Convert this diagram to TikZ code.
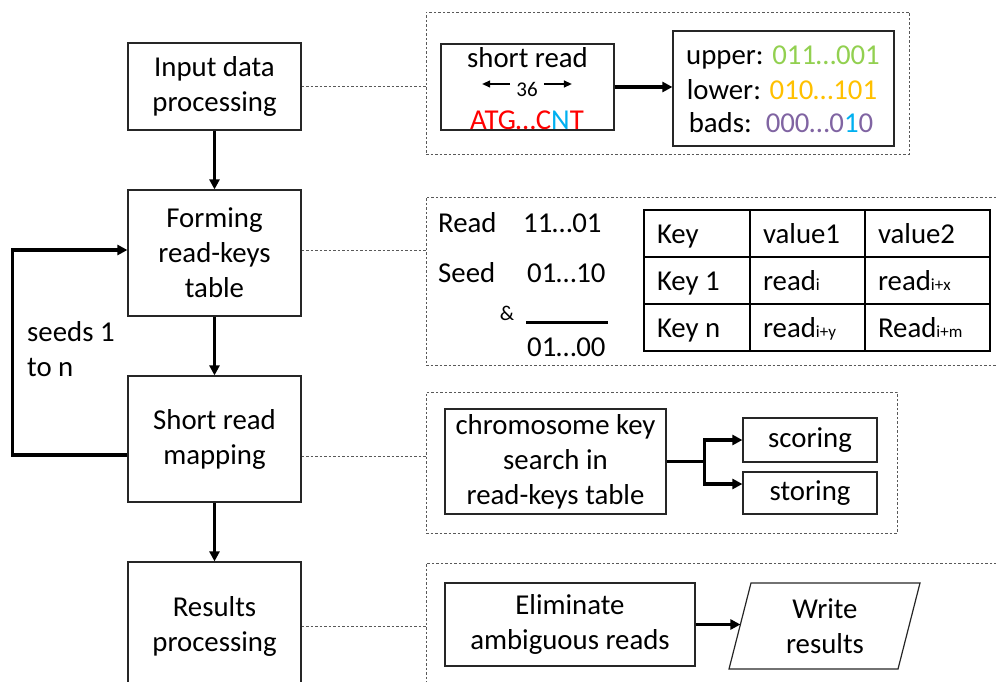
\documentclass[tikz,border=0pt]{standalone}
\usepackage{fontspec}
\setmainfont{Carlito}
\usetikzlibrary{arrows.meta,fit}
\definecolor{cgreen}{HTML}{92D050}
\definecolor{corange}{HTML}{FFC000}
\definecolor{cpurple}{HTML}{8064A2}
\definecolor{ccyan}{HTML}{00B0F0}
\definecolor{cred}{HTML}{FF0000}
\newcommand\idxfont{\fontsize{17}{17}\selectfont}
\begin{document}
\begin{tikzpicture}[x=1pt,y=-1pt,
  every node/.style={font=\fontsize{28.8}{35}\selectfont, inner sep=0pt},
  box/.style={draw=black!85, line width=1.2pt, align=center},
  stage/.style={box, minimum width=173pt},
  grp/.style={draw=black!65, line width=0.9pt, dash pattern=on 2.5pt off 2pt, inner sep=0pt},
  link/.style={draw=black!65, line width=0.9pt, dash pattern=on 2.5pt off 2pt},
  flow/.style={line width=3.3pt, -{Triangle[length=10pt,width=10pt]}},
  tarrow/.style={line width=1.3pt, -{Triangle[length=8pt,width=7pt]}},
  small/.style={font=\fontsize{21}{21}\selectfont},
  cell/.style={draw=black, line width=1.3pt, inner xsep=13pt, inner ysep=0pt,
    text height=21pt, text depth=1pt, align=flush left, minimum height=47pt},
  txt/.style={anchor=mid west},
]
\useasboundingbox (0,0) rectangle (996,682);

% main processing stages
\node[stage, minimum height=87pt]  (inp)  at (214.5,86.5) {Input data\\processing};
\node[stage, minimum height=126pt] (form) at (214.5,253)  {Forming\\read-keys\\table};
\node[stage, minimum height=126pt] (map)  at (214.5,439)  {Short read\\mapping};
\node[stage, minimum height=128pt] (res)  at (214.5,626)  {Results\\processing};

\draw[flow] (inp.south) -- (form.north);
\draw[flow] (form.south) -- (map.north);
\draw[flow] (map.south) -- (res.north);

% iteration over the seeds
\draw[flow] ([yshift=-16pt]map.west) -- ++(-115,0) |- ([yshift=3pt]form.west);
\node[align=left, anchor=west] (seeds) at (27,349.5) {seeds 1\\to n};

% detail panels
\node[grp, fit={(426,12) (909,154)}]   (g1) {};
\node[grp, fit={(426,197) (1005,365)}] (g2) {};
\node[grp, fit={(426,392) (897,533)}]  (g3) {};
\node[grp, fit={(426,563) (1005,700)}] (g4) {};

\draw[link] (inp.east) -- (inp.east -| g1.west);
\path ([yshift=3pt]form.east) coordinate (fl);
\draw[link] (fl) -- (fl -| g2.west);
\path ([yshift=-17pt]map.east) coordinate (ml);
\draw[link] (ml) -- (ml -| g3.west);
\draw[link] (res.east) -- (res.east -| g4.west);

% panel 1: read encoding
\node[box, minimum width=173pt, minimum height=86pt] (sr) at (527.5,87) {};
\node (srt) at (527.5,58) {short read};
\node[small] (n36) at (527,89) {36};
\draw[tarrow] ([shift={(-6pt,5pt)}]n36.west) -- ++(-28,0);
\draw[tarrow] ([shift={(6pt,5pt)}]n36.east) -- ++(28,0);
\node (seq) at (527,120) {\textcolor{cred}{ATG…C}\textcolor{ccyan}{N}\textcolor{cred}{T}};

\node[box, minimum width=221pt, minimum height=115pt] (ub) at (783.5,88.5) {};
\node (up) at (783,57)  {upper: \textcolor{cgreen}{011…001}};
\node (lo) at (782,90)  {lower: \textcolor{corange}{010…101}};
\node (bd) at (781,123) {bads:\hspace{14pt}\textcolor{cpurple}{000…0}\textcolor{ccyan}{1}\textcolor{cpurple}{0}};
\draw[flow] (sr.east) -- (sr.east -| ub.west);

% panel 2: seed masking and read-keys table
\node[txt] (rdl) at (438,230) {Read};
\node[txt] (rdv) at (523,230) {11…01};
\node[txt] (sdl) at (438,280) {Seed};
\node[txt] (sdv) at (527,280) {01…10};
\node[small] (amp) at (507,313) {\&};
\draw[line width=3pt] (526,322) -- (608,322);
\node[txt] (out) at (527,354) {01…00};

\node[cell, text width=80pt] (c11) at (697,233.5)   {Key};
\node[cell, text width=89pt] (c12) at (807.5,233.5) {value1};
\node[cell, text width=99pt] (c13) at (927.5,233.5) {value2};
\node[cell, text width=80pt] (c21) at (697,280.5)   {Key 1};
\node[cell, text width=89pt] (c22) at (807.5,280.5) {read{\idxfont i}};
\node[cell, text width=99pt] (c23) at (927.5,280.5) {read{\idxfont i+x}};
\node[cell, text width=80pt] (c31) at (697,327.5)   {Key n};
\node[cell, text width=89pt] (c32) at (807.5,327.5) {read{\idxfont i+y}};
\node[cell, text width=99pt] (c33) at (927.5,327.5) {Read{\idxfont i+m}};

% panel 3: mapping
\node[box, minimum width=221pt, minimum height=105pt] (chr) at (555.5,461.5)
  {chromosome key\\search in\\read-keys table};
\node[box, minimum width=134pt, minimum height=44pt] (score) at (810,440) {scoring};
\node[box, minimum width=134pt, minimum height=42pt] (store) at (810,493) {storing};
\draw[flow] (chr.east) -- ++(38,0) |- (score.west);
\draw[flow] (chr.east) -- ++(38,0) |- ([yshift=9pt]store.west);

% panel 4: results
\node[box, minimum width=250pt, minimum height=83pt] (elim) at (570,624.5)
  {Eliminate\\ambiguous reads};
\draw[draw=black!85, line width=1.2pt] (751,583) coordinate (wtl) -- (920,583)
  -- (898,669) -- (729,669) coordinate (wbl) -- cycle;
\node[align=center] (wr) at (825,626.5) {Write\\results};
\path (wtl) -- (wbl) coordinate[pos=0.48] (win);
\draw[flow] (elim.east) -- (elim.east -| win);
\end{tikzpicture}
\end{document}
